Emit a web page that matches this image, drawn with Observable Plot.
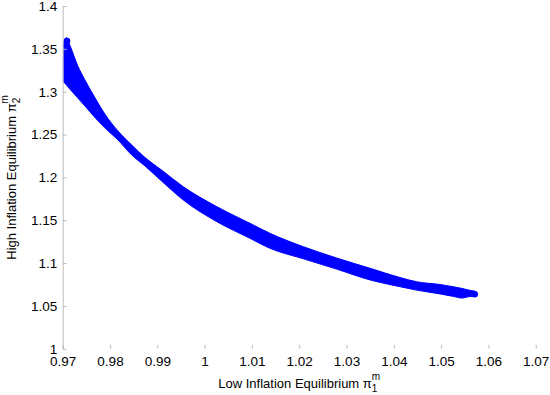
<!DOCTYPE html>
<html><head><meta charset="utf-8">
<script src="https://cdn.jsdelivr.net/npm/d3@7"></script>
<script src="https://cdn.jsdelivr.net/npm/@observablehq/plot@0.6"></script>
<style>
body{margin:0;background:#fff;}
svg{display:block;font-family:"Liberation Sans",Arial,sans-serif;}
</style>
</head><body><div id="chart"></div>
<script>
// Band of equilibria: x (low inflation eq.), upper and lower edge of the dense scatter (high inflation eq.)
const piLow = [0.9702,0.9708,0.9715,0.9732,0.9747,0.9768,0.9789,0.9817,0.9846,0.9874,0.9909,0.9955,1.0026,1.0096,1.0138,1.0209,1.0279,1.0350,1.0413,1.0448,1.0498,1.0525,1.0544,1.0561,1.0572];
const piHighUpper = [1.3580,1.3632,1.3545,1.3300,1.3137,1.2932,1.2740,1.2541,1.2378,1.2232,1.2086,1.1891,1.1658,1.1464,1.1348,1.1191,1.1060,1.0939,1.0832,1.0783,1.0750,1.0725,1.0705,1.0682,1.0672];
const piHighLower = [1.3113,1.3078,1.3031,1.2926,1.2833,1.2700,1.2580,1.2436,1.2261,1.2133,1.1958,1.1736,1.1483,1.1289,1.1173,1.1050,1.0930,1.0803,1.0725,1.0685,1.0640,1.0612,1.0592,1.0610,1.0612];
// rounded marker ends of the band
const capX = [0.9708, 1.0570];
const capY = [1.3597, 1.0642];

const xTicks = [0.97,0.98,0.99,1,1.01,1.02,1.03,1.04,1.05,1.06,1.07];
const yTicks = [1,1.05,1.1,1.15,1.2,1.25,1.3,1.35,1.4];
const xLabelMain = "Low Inflation Equilibrium π", xLabelSub = "1", xLabelSup = "m";
const yLabelMain = "High Inflation Equilibrium π", yLabelSub = "2", yLabelSup = "m";

const band = piLow.map((x, i) => ({x, y1: piHighLower[i], y2: piHighUpper[i]}));
const caps = capX.map((x, i) => ({x, y: capY[i]}));

const W = 550, H = 395, mL = 62.7, mR = 14.3, mT = 6, mB = 46.2;
const plotW = W - mL - mR, plotH = H - mT - mB;
const gray = "#bcbcbc", blue = "#0000ff";

const plot = Plot.plot({
  width: W, height: H,
  marginLeft: mL, marginRight: mR, marginTop: mT, marginBottom: mB,
  x: {domain: [0.97, 1.07]},
  y: {domain: [1, 1.4]},
  style: {fontFamily: '"Liberation Sans", Arial, sans-serif', fontSize: "13.5px", color: "#000", background: "#fff"},
  marks: [
    Plot.areaY(band, {x: "x", y1: "y1", y2: "y2", fill: blue, stroke: blue, strokeWidth: 1, curve: "monotone-x"}),
    Plot.dot(caps, {x: "x", y: "y", r: 3.3, fill: blue}),
    Plot.ruleX([xTicks[0]], {stroke: gray}),
    Plot.ruleX(xTicks, {stroke: gray, insetTop: plotH - 4}),
    Plot.ruleY(yTicks, {stroke: gray, insetRight: plotW - 4}),
    Plot.axisX({ticks: xTicks, tickSize: 0, tickPadding: 7, tickFormat: d => String(d), label: null}),
    Plot.axisY({ticks: yTicks, tickSize: 0, tickPadding: 6, tickFormat: d => String(d), label: null})
  ]
});

const svg = d3.select(plot);
const xMid = mL + plotW / 2, yMid = mT + plotH / 2;

function addLabel(sel, main, sub, sup) {
  sel.append("tspan").text(main);
  sel.append("tspan").attr("dy", 4).attr("font-size", 10).text(sub);
  sel.append("tspan").attr("dx", -5.6).attr("dy", -12).attr("font-size", 10).text(sup);
}
const xl = svg.append("text").attr("x", xMid).attr("y", 388).attr("text-anchor", "middle")
  .attr("font-size", 13).attr("fill", "#000");
addLabel(xl, xLabelMain, xLabelSub, xLabelSup);

const yl = svg.append("text").attr("transform", `translate(15.5,${yMid}) rotate(-90)`).attr("text-anchor", "middle")
  .attr("font-size", 13).attr("fill", "#000");
addLabel(yl, yLabelMain, yLabelSub, yLabelSup);

document.getElementById("chart").appendChild(plot);
</script>
</body></html>
